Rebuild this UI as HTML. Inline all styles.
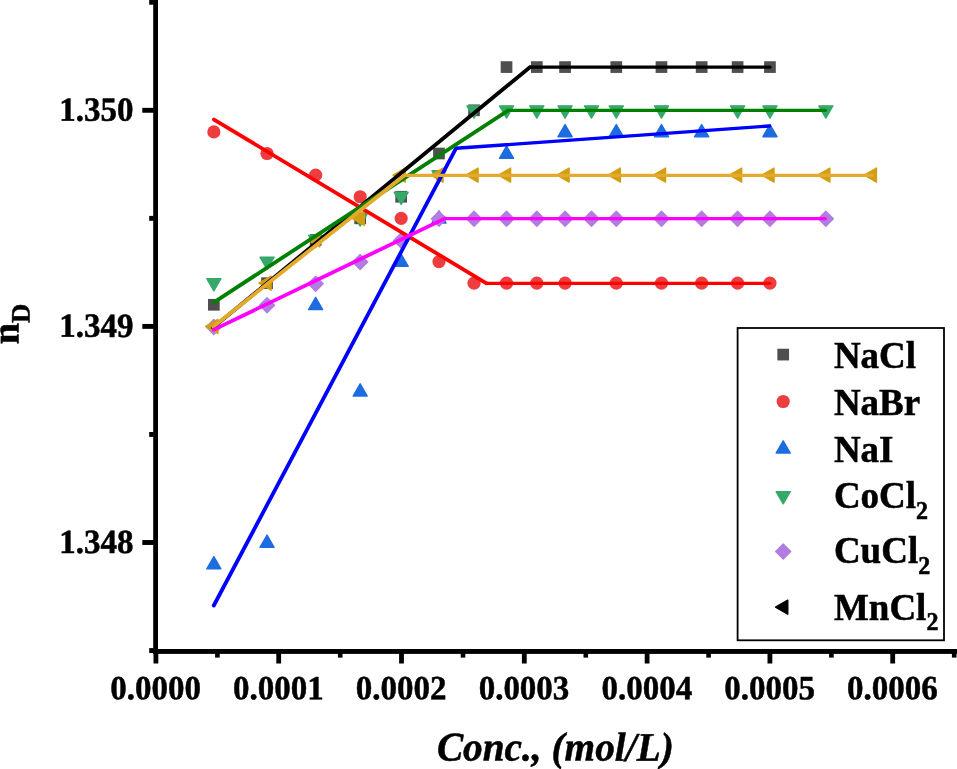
<!DOCTYPE html>
<html><head><meta charset="utf-8"><title>nD vs Conc.</title>
<style>
html,body{margin:0;padding:0;background:#fff;}
body{width:957px;height:769px;overflow:hidden;}
svg{display:block;will-change:transform;}
text{font-family:"Liberation Serif",serif;font-weight:bold;fill:#000;}
.tk{font-size:33px;stroke:#000;stroke-width:0.5;stroke-linejoin:round;}
.lg{font-size:37px;stroke:#000;stroke-width:0.5;stroke-linejoin:round;}
.tt{stroke:#000;stroke-width:0.5;stroke-linejoin:round;}
.ln{fill:none;stroke-width:3.2;stroke-linejoin:round;stroke-linecap:round;}
</style></head><body>
<svg width="957" height="769" viewBox="0 0 957 769">
<rect x="0" y="0" width="957" height="769" fill="#fff"/>
<g id="markers">
<rect x="207.99" y="298.94" width="11.7" height="11.7" fill="#4f4f4f"/>
<rect x="261.2" y="277.33" width="11.7" height="11.7" fill="#4f4f4f"/>
<rect x="309.79" y="234.11" width="11.7" height="11.7" fill="#4f4f4f"/>
<rect x="354.33" y="212.5" width="11.7" height="11.7" fill="#4f4f4f"/>
<rect x="395.31" y="190.89" width="11.7" height="11.7" fill="#4f4f4f"/>
<rect x="433.13" y="147.67" width="11.7" height="11.7" fill="#4f4f4f"/>
<rect x="468.16" y="104.45" width="11.7" height="11.7" fill="#4f4f4f"/>
<rect x="500.68" y="61.23" width="11.7" height="11.7" fill="#4f4f4f"/>
<rect x="530.96" y="61.23" width="11.7" height="11.7" fill="#4f4f4f"/>
<rect x="559.22" y="61.23" width="11.7" height="11.7" fill="#4f4f4f"/>
<rect x="610.44" y="61.23" width="11.7" height="11.7" fill="#4f4f4f"/>
<rect x="655.63" y="61.23" width="11.7" height="11.7" fill="#4f4f4f"/>
<rect x="695.81" y="61.23" width="11.7" height="11.7" fill="#4f4f4f"/>
<rect x="731.75" y="61.23" width="11.7" height="11.7" fill="#4f4f4f"/>
<rect x="764.1" y="61.23" width="11.7" height="11.7" fill="#4f4f4f"/>
<circle cx="213.84" cy="131.91" r="6.6" fill="#ed3d3f"/>
<circle cx="267.05" cy="153.52" r="6.6" fill="#ed3d3f"/>
<circle cx="315.64" cy="175.13" r="6.6" fill="#ed3d3f"/>
<circle cx="360.18" cy="196.74" r="6.6" fill="#ed3d3f"/>
<circle cx="401.16" cy="218.35" r="6.6" fill="#ed3d3f"/>
<circle cx="438.98" cy="261.57" r="6.6" fill="#ed3d3f"/>
<circle cx="474.01" cy="283.18" r="6.6" fill="#ed3d3f"/>
<circle cx="506.53" cy="283.18" r="6.6" fill="#ed3d3f"/>
<circle cx="536.81" cy="283.18" r="6.6" fill="#ed3d3f"/>
<circle cx="565.07" cy="283.18" r="6.6" fill="#ed3d3f"/>
<circle cx="616.29" cy="283.18" r="6.6" fill="#ed3d3f"/>
<circle cx="661.48" cy="283.18" r="6.6" fill="#ed3d3f"/>
<circle cx="701.66" cy="283.18" r="6.6" fill="#ed3d3f"/>
<circle cx="737.6" cy="283.18" r="6.6" fill="#ed3d3f"/>
<circle cx="769.95" cy="283.18" r="6.6" fill="#ed3d3f"/>
<path d="M213.84 556.68L220.88 568.88L206.8 568.88Z" fill="#1d6ce0" stroke="#1d6ce0" stroke-width="1.4" stroke-linejoin="round"/>
<path d="M267.05 535.07L274.09 547.27L260.02 547.27Z" fill="#1d6ce0" stroke="#1d6ce0" stroke-width="1.4" stroke-linejoin="round"/>
<path d="M315.64 297.36L322.68 309.56L308.61 309.56Z" fill="#1d6ce0" stroke="#1d6ce0" stroke-width="1.4" stroke-linejoin="round"/>
<path d="M360.18 383.8L367.22 396L353.14 396Z" fill="#1d6ce0" stroke="#1d6ce0" stroke-width="1.4" stroke-linejoin="round"/>
<path d="M401.16 254.14L408.2 266.34L394.12 266.34Z" fill="#1d6ce0" stroke="#1d6ce0" stroke-width="1.4" stroke-linejoin="round"/>
<path d="M438.98 210.92L446.02 223.12L431.95 223.12Z" fill="#1d6ce0" stroke="#1d6ce0" stroke-width="1.4" stroke-linejoin="round"/>
<path d="M506.53 146.09L513.57 158.29L499.49 158.29Z" fill="#1d6ce0" stroke="#1d6ce0" stroke-width="1.4" stroke-linejoin="round"/>
<path d="M565.07 124.48L572.11 136.68L558.03 136.68Z" fill="#1d6ce0" stroke="#1d6ce0" stroke-width="1.4" stroke-linejoin="round"/>
<path d="M616.29 124.48L623.33 136.68L609.25 136.68Z" fill="#1d6ce0" stroke="#1d6ce0" stroke-width="1.4" stroke-linejoin="round"/>
<path d="M661.48 124.48L668.52 136.68L654.44 136.68Z" fill="#1d6ce0" stroke="#1d6ce0" stroke-width="1.4" stroke-linejoin="round"/>
<path d="M701.66 124.48L708.69 136.68L694.62 136.68Z" fill="#1d6ce0" stroke="#1d6ce0" stroke-width="1.4" stroke-linejoin="round"/>
<path d="M769.95 124.48L776.99 136.68L762.91 136.68Z" fill="#1d6ce0" stroke="#1d6ce0" stroke-width="1.4" stroke-linejoin="round"/>
<path d="M213.84 290.91L220.88 278.71L206.8 278.71Z" fill="#36a869" stroke="#36a869" stroke-width="1.4" stroke-linejoin="round"/>
<path d="M267.05 269.3L274.09 257.1L260.02 257.1Z" fill="#36a869" stroke="#36a869" stroke-width="1.4" stroke-linejoin="round"/>
<path d="M315.64 247.69L322.68 235.49L308.61 235.49Z" fill="#36a869" stroke="#36a869" stroke-width="1.4" stroke-linejoin="round"/>
<path d="M360.18 226.08L367.22 213.88L353.14 213.88Z" fill="#36a869" stroke="#36a869" stroke-width="1.4" stroke-linejoin="round"/>
<path d="M401.16 204.47L408.2 192.27L394.12 192.27Z" fill="#36a869" stroke="#36a869" stroke-width="1.4" stroke-linejoin="round"/>
<path d="M438.98 182.86L446.02 170.66L431.95 170.66Z" fill="#36a869" stroke="#36a869" stroke-width="1.4" stroke-linejoin="round"/>
<path d="M474.01 118.03L481.05 105.83L466.97 105.83Z" fill="#36a869" stroke="#36a869" stroke-width="1.4" stroke-linejoin="round"/>
<path d="M506.53 118.03L513.57 105.83L499.49 105.83Z" fill="#36a869" stroke="#36a869" stroke-width="1.4" stroke-linejoin="round"/>
<path d="M536.81 118.03L543.85 105.83L529.77 105.83Z" fill="#36a869" stroke="#36a869" stroke-width="1.4" stroke-linejoin="round"/>
<path d="M565.07 118.03L572.11 105.83L558.03 105.83Z" fill="#36a869" stroke="#36a869" stroke-width="1.4" stroke-linejoin="round"/>
<path d="M591.5 118.03L598.54 105.83L584.46 105.83Z" fill="#36a869" stroke="#36a869" stroke-width="1.4" stroke-linejoin="round"/>
<path d="M616.29 118.03L623.33 105.83L609.25 105.83Z" fill="#36a869" stroke="#36a869" stroke-width="1.4" stroke-linejoin="round"/>
<path d="M661.48 118.03L668.52 105.83L654.44 105.83Z" fill="#36a869" stroke="#36a869" stroke-width="1.4" stroke-linejoin="round"/>
<path d="M737.6 118.03L744.64 105.83L730.56 105.83Z" fill="#36a869" stroke="#36a869" stroke-width="1.4" stroke-linejoin="round"/>
<path d="M769.95 118.03L776.99 105.83L762.91 105.83Z" fill="#36a869" stroke="#36a869" stroke-width="1.4" stroke-linejoin="round"/>
<path d="M825.83 118.03L832.87 105.83L818.79 105.83Z" fill="#36a869" stroke="#36a869" stroke-width="1.4" stroke-linejoin="round"/>
<path d="M213.84 319.39L221.35 326.9L213.84 334.41L206.33 326.9Z" fill="#b27de0" stroke="#b27de0" stroke-width="1.4" stroke-linejoin="round"/>
<path d="M267.05 297.78L274.56 305.29L267.05 312.8L259.54 305.29Z" fill="#b27de0" stroke="#b27de0" stroke-width="1.4" stroke-linejoin="round"/>
<path d="M315.64 276.17L323.15 283.68L315.64 291.19L308.13 283.68Z" fill="#b27de0" stroke="#b27de0" stroke-width="1.4" stroke-linejoin="round"/>
<path d="M360.18 254.56L367.69 262.07L360.18 269.58L352.67 262.07Z" fill="#b27de0" stroke="#b27de0" stroke-width="1.4" stroke-linejoin="round"/>
<path d="M401.16 232.95L408.67 240.46L401.16 247.97L393.65 240.46Z" fill="#b27de0" stroke="#b27de0" stroke-width="1.4" stroke-linejoin="round"/>
<path d="M438.98 211.34L446.49 218.85L438.98 226.36L431.47 218.85Z" fill="#b27de0" stroke="#b27de0" stroke-width="1.4" stroke-linejoin="round"/>
<path d="M474.01 211.34L481.52 218.85L474.01 226.36L466.5 218.85Z" fill="#b27de0" stroke="#b27de0" stroke-width="1.4" stroke-linejoin="round"/>
<path d="M506.53 211.34L514.04 218.85L506.53 226.36L499.02 218.85Z" fill="#b27de0" stroke="#b27de0" stroke-width="1.4" stroke-linejoin="round"/>
<path d="M536.81 211.34L544.32 218.85L536.81 226.36L529.3 218.85Z" fill="#b27de0" stroke="#b27de0" stroke-width="1.4" stroke-linejoin="round"/>
<path d="M565.07 211.34L572.58 218.85L565.07 226.36L557.56 218.85Z" fill="#b27de0" stroke="#b27de0" stroke-width="1.4" stroke-linejoin="round"/>
<path d="M591.5 211.34L599.01 218.85L591.5 226.36L583.99 218.85Z" fill="#b27de0" stroke="#b27de0" stroke-width="1.4" stroke-linejoin="round"/>
<path d="M616.29 211.34L623.8 218.85L616.29 226.36L608.78 218.85Z" fill="#b27de0" stroke="#b27de0" stroke-width="1.4" stroke-linejoin="round"/>
<path d="M661.48 211.34L668.99 218.85L661.48 226.36L653.97 218.85Z" fill="#b27de0" stroke="#b27de0" stroke-width="1.4" stroke-linejoin="round"/>
<path d="M701.66 211.34L709.17 218.85L701.66 226.36L694.15 218.85Z" fill="#b27de0" stroke="#b27de0" stroke-width="1.4" stroke-linejoin="round"/>
<path d="M737.6 211.34L745.11 218.85L737.6 226.36L730.09 218.85Z" fill="#b27de0" stroke="#b27de0" stroke-width="1.4" stroke-linejoin="round"/>
<path d="M769.95 211.34L777.46 218.85L769.95 226.36L762.44 218.85Z" fill="#b27de0" stroke="#b27de0" stroke-width="1.4" stroke-linejoin="round"/>
<path d="M825.83 211.34L833.34 218.85L825.83 226.36L818.32 218.85Z" fill="#b27de0" stroke="#b27de0" stroke-width="1.4" stroke-linejoin="round"/>
<path d="M205.7 326.4L217.9 319.36L217.9 333.44Z" fill="#d39e12" stroke="#d39e12" stroke-width="1.4" stroke-linejoin="round"/>
<path d="M258.92 283.18L271.12 276.14L271.12 290.22Z" fill="#d39e12" stroke="#d39e12" stroke-width="1.4" stroke-linejoin="round"/>
<path d="M307.51 239.96L319.71 232.92L319.71 247Z" fill="#d39e12" stroke="#d39e12" stroke-width="1.4" stroke-linejoin="round"/>
<path d="M352.05 218.35L364.25 211.31L364.25 225.39Z" fill="#d39e12" stroke="#d39e12" stroke-width="1.4" stroke-linejoin="round"/>
<path d="M393.03 175.13L405.23 168.09L405.23 182.17Z" fill="#d39e12" stroke="#d39e12" stroke-width="1.4" stroke-linejoin="round"/>
<path d="M430.85 175.13L443.05 168.09L443.05 182.17Z" fill="#d39e12" stroke="#d39e12" stroke-width="1.4" stroke-linejoin="round"/>
<path d="M465.87 175.13L478.07 168.09L478.07 182.17Z" fill="#d39e12" stroke="#d39e12" stroke-width="1.4" stroke-linejoin="round"/>
<path d="M498.4 175.13L510.6 168.09L510.6 182.17Z" fill="#d39e12" stroke="#d39e12" stroke-width="1.4" stroke-linejoin="round"/>
<path d="M556.93 175.13L569.13 168.09L569.13 182.17Z" fill="#d39e12" stroke="#d39e12" stroke-width="1.4" stroke-linejoin="round"/>
<path d="M608.15 175.13L620.35 168.09L620.35 182.17Z" fill="#d39e12" stroke="#d39e12" stroke-width="1.4" stroke-linejoin="round"/>
<path d="M653.35 175.13L665.55 168.09L665.55 182.17Z" fill="#d39e12" stroke="#d39e12" stroke-width="1.4" stroke-linejoin="round"/>
<path d="M729.47 175.13L741.67 168.09L741.67 182.17Z" fill="#d39e12" stroke="#d39e12" stroke-width="1.4" stroke-linejoin="round"/>
<path d="M761.82 175.13L774.02 168.09L774.02 182.17Z" fill="#d39e12" stroke="#d39e12" stroke-width="1.4" stroke-linejoin="round"/>
<path d="M817.69 175.13L829.89 168.09L829.89 182.17Z" fill="#d39e12" stroke="#d39e12" stroke-width="1.4" stroke-linejoin="round"/>
<path d="M864.26 175.13L876.46 168.09L876.46 182.17Z" fill="#d39e12" stroke="#d39e12" stroke-width="1.4" stroke-linejoin="round"/>
</g>
<g id="lines">
<line class="ln" stroke="#000000" style="stroke-width:3.8" x1="213" y1="327.6" x2="529.9" y2="67.2"/><line class="ln" stroke="#000000" style="stroke-width:3.2" x1="529.9" y1="67.2" x2="769.95" y2="67.2"/>
<line class="ln" stroke="#ff0000" style="stroke-width:3.8" x1="214" y1="119.6" x2="486.5" y2="283.3"/><line class="ln" stroke="#ff0000" style="stroke-width:3.2" x1="486.5" y1="283.3" x2="769.95" y2="283.3"/>
<line class="ln" stroke="#0000ff" style="stroke-width:3.8" x1="213.8" y1="605.5" x2="456" y2="148.3"/><line class="ln" stroke="#0000ff" style="stroke-width:3.4" x1="456" y1="148.3" x2="769.65" y2="126"/>
<line class="ln" stroke="#008000" style="stroke-width:3.8" x1="213.9" y1="302.3" x2="508.3" y2="110.4"/><line class="ln" stroke="#008000" style="stroke-width:3.2" x1="508.3" y1="110.4" x2="825.43" y2="110.4"/>
<line class="ln" stroke="#e3aa2c" style="stroke-width:3.8" x1="213.3" y1="326.7" x2="404.2" y2="175.4"/><line class="ln" stroke="#e3aa2c" style="stroke-width:3.2" x1="404.2" y1="175.4" x2="872.39" y2="175.4"/>
<line class="ln" stroke="#ff00ff" style="stroke-width:3.8" x1="213.8" y1="329.6" x2="444.6" y2="218.6"/><line class="ln" stroke="#ff00ff" style="stroke-width:3.2" x1="444.6" y1="218.6" x2="825.43" y2="218.6"/>
</g>
<g id="axes" fill="#000">
<rect x="153.2" y="0" width="4.8" height="654"/>
<rect x="153.2" y="649" width="803.8" height="4.9"/>
<rect x="142.3" y="107.85" width="11.5" height="4.9"/>
<rect x="142.3" y="323.95" width="11.5" height="4.9"/>
<rect x="142.3" y="540.05" width="11.5" height="4.9"/>
<rect x="149.2" y="-0.2" width="4.5" height="4.9"/>
<rect x="149.2" y="215.9" width="4.5" height="4.9"/>
<rect x="149.2" y="432" width="4.5" height="4.9"/>
<rect x="149.2" y="648.1" width="4.5" height="4.9"/>
<rect x="153.5" y="653" width="4.8" height="10.5"/>
<rect x="276.3" y="653" width="4.8" height="10.5"/>
<rect x="399.1" y="653" width="4.8" height="10.5"/>
<rect x="521.9" y="653" width="4.8" height="10.5"/>
<rect x="644.7" y="653" width="4.8" height="10.5"/>
<rect x="767.5" y="653" width="4.8" height="10.5"/>
<rect x="890.3" y="653" width="4.8" height="10.5"/>
<rect x="215.1" y="653" width="4.6" height="4.6"/>
<rect x="337.9" y="653" width="4.6" height="4.6"/>
<rect x="460.7" y="653" width="4.6" height="4.6"/>
<rect x="583.5" y="653" width="4.6" height="4.6"/>
<rect x="706.3" y="653" width="4.6" height="4.6"/>
<rect x="829.1" y="653" width="4.6" height="4.6"/>
<rect x="951.9" y="653" width="4.6" height="4.6"/>
</g>
<g id="ticklabels">
<text class="tk" transform="translate(133.6,120.8) rotate(0.03) scale(1,1.025)" text-anchor="end">1.350</text>
<text class="tk" transform="translate(133.6,336.9) rotate(0.03) scale(1,1.025)" text-anchor="end">1.349</text>
<text class="tk" transform="translate(133.6,553) rotate(0.03) scale(1,1.025)" text-anchor="end">1.348</text>
<text class="tk" transform="translate(155.6,699.2) rotate(0.03) scale(1,1.025)" text-anchor="middle">0.0000</text>
<text class="tk" transform="translate(278.4,699.2) rotate(0.03) scale(1,1.025)" text-anchor="middle">0.0001</text>
<text class="tk" transform="translate(401.2,699.2) rotate(0.03) scale(1,1.025)" text-anchor="middle">0.0002</text>
<text class="tk" transform="translate(524,699.2) rotate(0.03) scale(1,1.025)" text-anchor="middle">0.0003</text>
<text class="tk" transform="translate(646.8,699.2) rotate(0.03) scale(1,1.025)" text-anchor="middle">0.0004</text>
<text class="tk" transform="translate(769.6,699.2) rotate(0.03) scale(1,1.025)" text-anchor="middle">0.0005</text>
<text class="tk" transform="translate(892.4,699.2) rotate(0.03) scale(1,1.025)" text-anchor="middle">0.0006</text>
</g>
<text class="tt" transform="translate(555.3,760.6) rotate(0.03) scale(1,1.035)" text-anchor="middle" style="font-size:39.3px;font-style:italic;">Conc., (mol/L)</text>
<g transform="translate(18.5,344.2) rotate(-89.8) scale(0.1)"><text class="tt" x="0" y="0" style="font-size:383px;stroke-width:5;">n<tspan dy="109" style="font-size:266px;">D</tspan></text></g>
<g id="legend">
<rect x="737.6" y="328.0" width="206.4" height="312.3" fill="#fff" stroke="#000" stroke-width="1.8"/>
<rect x="777.35" y="348.75" width="11.7" height="11.7" fill="#4f4f4f"/>
<circle cx="783.2" cy="401.5" r="6.6" fill="#ed3d3f"/>
<path d="M783.2 440.87L790.24 453.07L776.16 453.07Z" fill="#1d6ce0" stroke="#1d6ce0" stroke-width="1.4" stroke-linejoin="round"/>
<path d="M783.2 503.83L790.24 491.63L776.16 491.63Z" fill="#36a869" stroke="#36a869" stroke-width="1.4" stroke-linejoin="round"/>
<path d="M783.2 543.99L790.71 551.5L783.2 559.01L775.69 551.5Z" fill="#b27de0" stroke="#b27de0" stroke-width="1.4" stroke-linejoin="round"/>
<path d="M775.57 607.2L787.77 600.16L787.77 614.24Z" fill="#000" stroke="#000" stroke-width="1.4" stroke-linejoin="round"/>
<text class="lg" x="833.9" y="368.2">NaCl</text>
<text class="lg" x="833.9" y="414.8">NaBr</text>
<text class="lg" x="833.9" y="462.2">NaI</text>
<text class="lg" x="833.9" y="508.4">CoCl</text>
<text transform="translate(916.11,519) scale(1,1.05)" style="font-size:24px;stroke:#000;stroke-width:0.5;">2</text>
<text class="lg" x="833.9" y="563.3">CuCl</text>
<text transform="translate(918.19,573.9) scale(1,1.05)" style="font-size:24px;stroke:#000;stroke-width:0.5;">2</text>
<text class="lg" x="833.9" y="619.7">MnCl</text>
<text transform="translate(926.4,630.3) scale(1,1.05)" style="font-size:24px;stroke:#000;stroke-width:0.5;">2</text>
</g>
</svg></body></html>
